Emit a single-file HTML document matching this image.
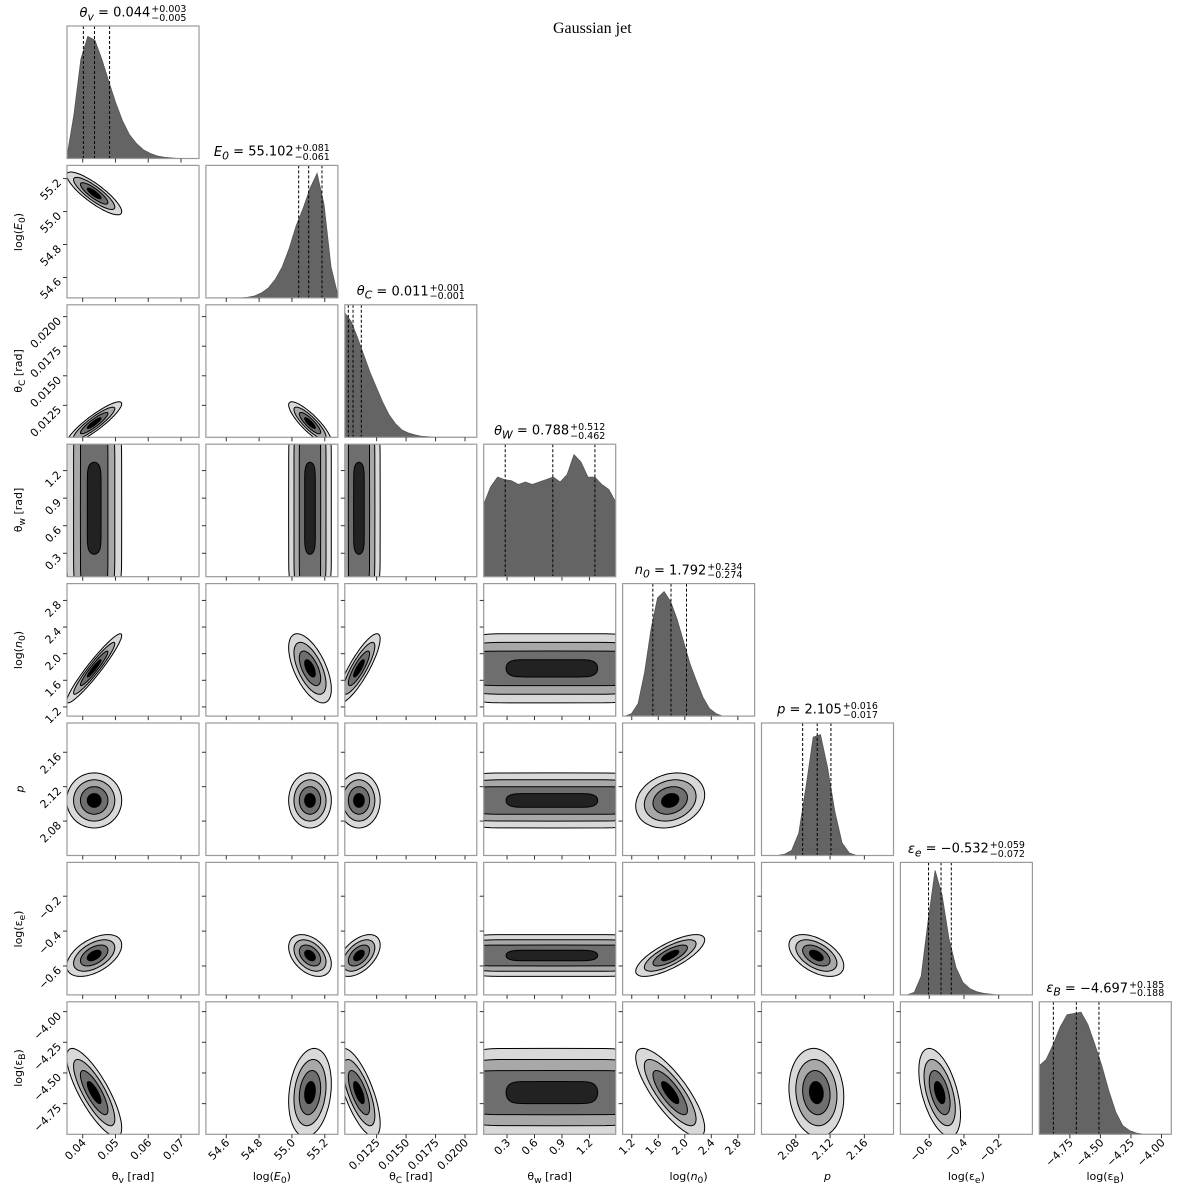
<!DOCTYPE html>
<html><head><meta charset="utf-8">
<style>
html,body{margin:0;padding:0;background:#fff;}
#wrap{position:relative;width:1200px;height:1189px;overflow:hidden;font-family:"DejaVu Sans","Liberation Sans",sans-serif;}
svg{position:absolute;left:0;top:0;}
.tt{position:absolute;font-size:13px;white-space:nowrap;transform:translateX(-50%);line-height:14px;}
.tt i{font-style:italic;}
.pm{display:inline-block;font-size:9.5px;line-height:8.5px;vertical-align:-4px;margin-left:1px;text-align:left;}
.pm span{display:block;}
.main-title{position:absolute;left:553px;top:20px;font-family:"Liberation Serif","DejaVu Serif",serif;font-size:16px;}
</style></head><body>
<div id="wrap">
<div class="main-title">Gaussian jet</div>
<svg id="chart" width="1200" height="1189"></svg>
</div>
<script>
const paramLabels=["θ<sub>v</sub> [rad]","log(<i>E</i><sub>0</sub>)","θ<sub>C</sub> [rad]","θ<sub>w</sub> [rad]","log(<i>n</i><sub>0</sub>)","<i>p</i>","log(ε<sub>e</sub>)","log(ε<sub>B</sub>)"];
const titleNames=["θ<sub>v</sub>","<i>E</i><sub>0</sub>","θ<sub>C</sub>","θ<sub>W</sub>","<i>n</i><sub>0</sub>","<i>p</i>","ε<sub>e</sub>","ε<sub>B</sub>"];
const titleVals=["0.044","55.102","0.011","0.788","1.792","2.105","−0.532","−4.697"];
const titlePlus=["+0.003","+0.081","+0.001","+0.512","+0.234","+0.016","+0.059","+0.185"];
const titleMinus=["−0.005","−0.061","−0.001","−0.462","−0.274","−0.017","−0.072","−0.188"];
const lo=[0.0352,54.476,0.0098,0.045,1.062,2.04,-0.766,-5.0];
const hi=[0.0755,55.28,0.0210,1.487,3.053,2.194,-0.006,-3.92];
const ticks=[[0.04,0.05,0.06,0.07],[54.6,54.8,55.0,55.2],[0.0125,0.015,0.0175,0.02],[0.3,0.6,0.9,1.2],[1.2,1.6,2.0,2.4,2.8],[2.04,2.08,2.12,2.16],[-0.6,-0.4,-0.2],[-4.75,-4.5,-4.25,-4.0]];
const tickLabels=[["0.04","0.05","0.06","0.07"],["54.6","54.8","55.0","55.2"],["0.0125","0.0150","0.0175","0.0200"],["0.3","0.6","0.9","1.2"],["1.2","1.6","2.0","2.4","2.8"],["2.04","2.08","2.12","2.16"],["−0.6","−0.4","−0.2"],["−4.75","−4.50","−4.25","−4.00"]];
const q16=[0.0402,55.041,0.0101,0.28,1.518,2.088,-0.604,-4.885];
const q50=[0.0436,55.102,0.0105,0.80,1.792,2.105,-0.532,-4.697];
const q84=[0.0482,55.183,0.0112,1.26,2.026,2.121,-0.473,-4.512];
const histLo=[0.0352,54.476,0.0098,0.045,1.10,2.033,-0.766,-5.0];
const histHi=[0.0755,55.28,0.0200,1.487,2.96,2.193,-0.006,-3.92];
const histThetaV=[0.02,0.35,0.8,0.98,0.95,0.8,0.62,0.45,0.3,0.19,0.12,0.07,0.04,0.02,0.01,0.005,0,0,0,0];
const histE0=[0,0,0,0,0,0,0.005,0.015,0.04,0.08,0.15,0.25,0.4,0.58,0.72,0.88,1.0,0.75,0.25,0.02];
const histThetaC=[1.0,0.93,0.8,0.66,0.52,0.4,0.28,0.18,0.11,0.06,0.035,0.02,0.01,0.005,0,0,0,0,0,0];
const histThetaW=[0.58,0.72,0.8,0.78,0.77,0.74,0.76,0.74,0.76,0.78,0.8,0.76,0.82,0.98,0.92,0.8,0.8,0.74,0.7,0.6];
const histN0=[0,0.02,0.1,0.35,0.7,0.95,1.0,0.92,0.78,0.6,0.42,0.28,0.15,0.06,0.02,0,0,0,0,0];
const histP=[0,0,0,0,0.01,0.04,0.18,0.55,0.95,0.97,0.7,0.35,0.1,0.02,0,0,0,0,0,0];
const histEe=[0,0,0.02,0.15,0.6,1.0,0.8,0.45,0.22,0.1,0.05,0.025,0.012,0.006,0,0,0,0,0,0];
const histEB=[0.55,0.6,0.72,0.86,0.96,0.97,0.98,0.88,0.72,0.55,0.35,0.18,0.07,0.03,0.01,0,0,0,0,0];
const hists=[histThetaV,histE0,histThetaC,histThetaW,histN0,histP,histEe,histEB];
const means=[0.0435,55.11,0.0110,0.79,1.78,2.104,-0.54,-4.66];
const sds=[0.0042,0.065,0.0009,1.0,0.26,0.016,0.06,0.18];
const flatParam=[false,false,false,true,false,false,false,false];
const corrRow1=[-0.85];
const corrRow2=[0.9,-0.85];
const corrRow3=[0,0,0];
const corrRow4=[0.95,-0.6,0.85,0];
const corrRow5=[0,0,0,0,0.2];
const corrRow6=[0.5,-0.4,0.5,0,0.75,-0.5];
const corrRow7=[-0.8,0.2,-0.7,0,-0.8,-0.1,-0.5];
const corr=[[],corrRow1,corrRow2,corrRow3,corrRow4,corrRow5,corrRow6,corrRow7];
const levels=[2,1.5,1,0.5];

const L0=67,DX=138.9,T0=26,DY=139.4,W=132,H=132.5;
const NS="http://www.w3.org/2000/svg";
const svg=document.getElementById('chart');
function mk(tag,attrs,parent){const e=document.createElementNS(NS,tag);for(const k in attrs)e.setAttribute(k,attrs[k]);(parent||svg).appendChild(e);return e;}
function px(i,v){return L0+DX*i+(v-lo[i])/(hi[i]-lo[i])*W;}
function py(j,v){return T0+DY*j+H-(v-lo[j])/(hi[j]-lo[j])*H;}
const defs=mk('defs',{});
const fills=['#d9d9d9','#a8a8a8','#6e6e6e','#000'];

for(let r=0;r<8;r++){for(let c=0;c<=r;c++){
  const x0=L0+DX*c,y0=T0+DY*r;
  const cp=mk('clipPath',{id:'cp'+r+'_'+c},defs);
  mk('rect',{x:x0,y:y0,width:W,height:H},cp);
  const g=mk('g',{'clip-path':'url(#cp'+r+'_'+c+')'});
  
  
  if(r===c){
    const hv=hists[r],n=hv.length;let d='M'+px(r,histLo[r])+','+(y0+H);
    for(let k=0;k<n;k++){const v=histLo[r]+(histHi[r]-histLo[r])*k/(n-1);d+=' L'+px(r,v).toFixed(1)+','+(y0+H-hv[k]*0.94*H).toFixed(1);}
    d+=' L'+px(r,histHi[r])+','+(y0+H)+' Z';
    const p=mk('path',{d:d,fill:'#646464',stroke:'#555','stroke-width':0.8},g);
    
    
    [q16[r],q50[r],q84[r]].forEach((q,qi)=>{
      const l=mk('line',{x1:px(r,q),x2:px(r,q),y1:y0,y2:y0+H,stroke:'#000','stroke-width':1,'stroke-dasharray':'3,2'},g);
      
      
    });
  } else {
    const rho=corr[r][c];
    levels.forEach((k,li)=>{
      let d='';
      for(let s=0;s<=96;s++){
        const t=s/96*2*Math.PI,cu=Math.cos(t),su=Math.sin(t);
        let X,Y;
        if(flatParam[c]){X=means[c]+sds[c]*(li===3?0.5:1)*Math.sign(cu)*Math.pow(Math.abs(cu),0.2);Y=means[r]+sds[r]*k*su;}
        else if(flatParam[r]){Y=means[r]+sds[r]*(li===3?0.5:1)*Math.sign(su)*Math.pow(Math.abs(su),0.2);X=means[c]+sds[c]*k*cu;}
        else{X=means[c]+sds[c]*k*cu;Y=means[r]+sds[r]*k*(rho*cu+Math.sqrt(1-rho*rho)*su);}
        d+=(s?' L':'M')+px(c,X).toFixed(1)+','+py(r,Y).toFixed(1);
      }
      const fl=(flatParam[c]||flatParam[r])&&li===3?'#222':fills[li];
      const p=mk('path',{d:d+' Z',fill:fl,stroke:'#000','stroke-width':1},g);
      
      
    });
  }
  const fr=mk('rect',{x:x0,y:y0,width:W,height:H,fill:'none',stroke:'#999','stroke-width':1.2});
  
  
  ticks[c].forEach(t=>{const x=px(c,t);if(x>x0&&x<x0+W)mk('line',{x1:x,x2:x,y1:y0+H,y2:y0+H+4,stroke:'#333','stroke-width':1});});
  if(c!==r)ticks[r].forEach(t=>{const y=py(r,t);if(y>y0&&y<y0+H)mk('line',{x1:x0,x2:x0-4,y1:y,y2:y,stroke:'#333','stroke-width':1});});
  if(r===7){ticks[c].forEach((t,ti)=>{const x=px(c,t);if(x>x0&&x<x0+W+1){
    const tx=mk('text',{x:0,y:0,'font-size':11,'text-anchor':'end',transform:'translate('+(x+4)+','+(y0+H+9)+') rotate(-45)'});
    tx.textContent=tickLabels[c][ti];
    
    }});}
  if(c===0&&r>0){ticks[r].forEach((t,ti)=>{const y=py(r,t);if(y>y0&&y<y0+H){
    const tx=mk('text',{x:0,y:0,'font-size':11,'text-anchor':'end',transform:'translate('+(x0-5)+','+(y+5)+') rotate(-45)'});
    tx.textContent=tickLabels[r][ti];
    
    }});}
}}
const wrap=document.getElementById('wrap');
for(let i=0;i<8;i++){
  const t=document.createElement('div');t.className='tt';
  t.style.left=(L0+DX*i+W/2)+'px';t.style.top=(T0+DY*i-20)+'px';
  t.innerHTML='<i>'+titleNames[i]+'</i> = '+titleVals[i]+'<span class="pm"><span>'+titlePlus[i]+'</span><span>'+titleMinus[i]+'</span></span>';
  
  
  wrap.appendChild(t);
  const xl=document.createElement('div');
  xl.style.cssText='position:absolute;font-size:11px;white-space:nowrap;transform:translateX(-50%);top:1170px;left:'+(L0+DX*i+W/2)+'px';
  xl.innerHTML=paramLabels[i];
  
  
  wrap.appendChild(xl);
  if(i>0){
    const yl=document.createElement('div');
    yl.style.cssText='position:absolute;font-size:11px;white-space:nowrap;transform:translate(-50%,-50%) rotate(-90deg);left:20px;top:'+(T0+DY*i+H/2)+'px';
    yl.innerHTML=paramLabels[i];
    
    
    wrap.appendChild(yl);
  }
}
</script>
</body></html>
